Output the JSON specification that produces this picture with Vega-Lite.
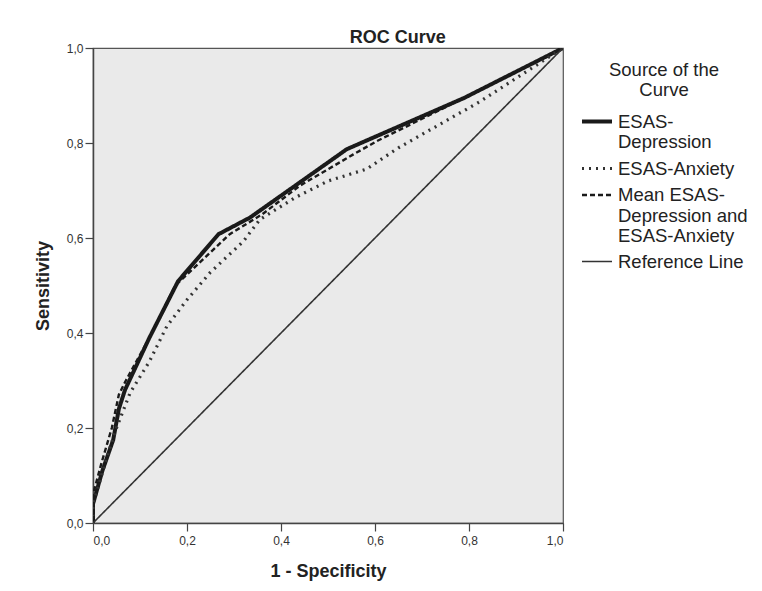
{
  "$schema": "https://vega.github.io/schema/vega-lite/v6.json",
  "width": 470,
  "height": 475,
  "autosize": "none",
  "padding": {"left": 93, "top": 48, "right": 199, "bottom": 68},
  "background": "white",
  "title": {"text": "ROC Curve", "fontSize": 18, "fontWeight": "bold", "anchor": "middle", "frame": "bounds", "offset": -5, "color": "#222"},
  "data": {
    "values": [
      {"series": "ESAS-Depression", "fpr": 0, "tpr": 0},
      {"series": "ESAS-Depression", "fpr": 0, "tpr": 0.04},
      {"series": "ESAS-Depression", "fpr": 0.02, "tpr": 0.11},
      {"series": "ESAS-Depression", "fpr": 0.043, "tpr": 0.175},
      {"series": "ESAS-Depression", "fpr": 0.055, "tpr": 0.24},
      {"series": "ESAS-Depression", "fpr": 0.068, "tpr": 0.28},
      {"series": "ESAS-Depression", "fpr": 0.12, "tpr": 0.39},
      {"series": "ESAS-Depression", "fpr": 0.181, "tpr": 0.509},
      {"series": "ESAS-Depression", "fpr": 0.267, "tpr": 0.608},
      {"series": "ESAS-Depression", "fpr": 0.334, "tpr": 0.643},
      {"series": "ESAS-Depression", "fpr": 0.44, "tpr": 0.717},
      {"series": "ESAS-Depression", "fpr": 0.54, "tpr": 0.787},
      {"series": "ESAS-Depression", "fpr": 0.79, "tpr": 0.895},
      {"series": "ESAS-Depression", "fpr": 1, "tpr": 1},
      {"series": "ESAS-Anxiety", "fpr": 0, "tpr": 0},
      {"series": "ESAS-Anxiety", "fpr": 0, "tpr": 0.04},
      {"series": "ESAS-Anxiety", "fpr": 0.03, "tpr": 0.14},
      {"series": "ESAS-Anxiety", "fpr": 0.05, "tpr": 0.2},
      {"series": "ESAS-Anxiety", "fpr": 0.079, "tpr": 0.274},
      {"series": "ESAS-Anxiety", "fpr": 0.12, "tpr": 0.34},
      {"series": "ESAS-Anxiety", "fpr": 0.157, "tpr": 0.414},
      {"series": "ESAS-Anxiety", "fpr": 0.2, "tpr": 0.47},
      {"series": "ESAS-Anxiety", "fpr": 0.249, "tpr": 0.527},
      {"series": "ESAS-Anxiety", "fpr": 0.32, "tpr": 0.593},
      {"series": "ESAS-Anxiety", "fpr": 0.355, "tpr": 0.639},
      {"series": "ESAS-Anxiety", "fpr": 0.43, "tpr": 0.685},
      {"series": "ESAS-Anxiety", "fpr": 0.5, "tpr": 0.72},
      {"series": "ESAS-Anxiety", "fpr": 0.582, "tpr": 0.745},
      {"series": "ESAS-Anxiety", "fpr": 0.65, "tpr": 0.79},
      {"series": "ESAS-Anxiety", "fpr": 0.823, "tpr": 0.887},
      {"series": "ESAS-Anxiety", "fpr": 1, "tpr": 1},
      {"series": "Mean ESAS-Depression and ESAS-Anxiety", "fpr": 0, "tpr": 0},
      {"series": "Mean ESAS-Depression and ESAS-Anxiety", "fpr": 0, "tpr": 0.06},
      {"series": "Mean ESAS-Depression and ESAS-Anxiety", "fpr": 0.018, "tpr": 0.126},
      {"series": "Mean ESAS-Depression and ESAS-Anxiety", "fpr": 0.04, "tpr": 0.2},
      {"series": "Mean ESAS-Depression and ESAS-Anxiety", "fpr": 0.055, "tpr": 0.27},
      {"series": "Mean ESAS-Depression and ESAS-Anxiety", "fpr": 0.07, "tpr": 0.3},
      {"series": "Mean ESAS-Depression and ESAS-Anxiety", "fpr": 0.12, "tpr": 0.39},
      {"series": "Mean ESAS-Depression and ESAS-Anxiety", "fpr": 0.175, "tpr": 0.5},
      {"series": "Mean ESAS-Depression and ESAS-Anxiety", "fpr": 0.291, "tpr": 0.608},
      {"series": "Mean ESAS-Depression and ESAS-Anxiety", "fpr": 0.36, "tpr": 0.65},
      {"series": "Mean ESAS-Depression and ESAS-Anxiety", "fpr": 0.44, "tpr": 0.71},
      {"series": "Mean ESAS-Depression and ESAS-Anxiety", "fpr": 0.554, "tpr": 0.776},
      {"series": "Mean ESAS-Depression and ESAS-Anxiety", "fpr": 0.604, "tpr": 0.804},
      {"series": "Mean ESAS-Depression and ESAS-Anxiety", "fpr": 0.8, "tpr": 0.9},
      {"series": "Mean ESAS-Depression and ESAS-Anxiety", "fpr": 1, "tpr": 1},
      {"series": "Reference Line", "fpr": 0, "tpr": 0},
      {"series": "Reference Line", "fpr": 1, "tpr": 1}
    ]
  },
  "mark": {"type": "line", "clip": true},
  "encoding": {
    "x": {"field": "fpr", "type": "quantitative", "title": "1 - Specificity",
      "scale": {"domain": [0, 1], "nice": false},
      "axis": {"values": [0, 0.2, 0.4, 0.6, 0.8, 1], "labelExpr": "replace(format(datum.value, '.1f'), '.', ',')", "labelPadding": 4, "titlePadding": 16}},
    "y": {"field": "tpr", "type": "quantitative", "title": "Sensitivity",
      "scale": {"domain": [0, 1], "nice": false},
      "axis": {"values": [0, 0.2, 0.4, 0.6, 0.8, 1], "labelExpr": "replace(format(datum.value, '.1f'), '.', ',')", "titlePadding": 14}},
    "color": {"field": "series", "type": "nominal",
      "scale": {"domain": ["ESAS-Depression", "ESAS-Anxiety", "Mean ESAS-Depression and ESAS-Anxiety", "Reference Line"], "range": ["#1a1a1a", "#333333", "#1a1a1a", "#333333"]},
      "legend": {
        "title": ["Source of the", "Curve"],
        "labelExpr": "datum.label == 'ESAS-Depression' ? ['ESAS-', 'Depression'] : datum.label == 'Mean ESAS-Depression and ESAS-Anxiety' ? ['Mean ESAS-', 'Depression and', 'ESAS-Anxiety'] : datum.label"
      }},
    "strokeDash": {"field": "series", "type": "nominal",
      "scale": {"domain": ["ESAS-Depression", "ESAS-Anxiety", "Mean ESAS-Depression and ESAS-Anxiety", "Reference Line"], "range": [[1, 0], [2, 5], [5, 3], [1, 0]]},
      "legend": {
        "title": ["Source of the", "Curve"],
        "labelExpr": "datum.label == 'ESAS-Depression' ? ['ESAS-', 'Depression'] : datum.label == 'Mean ESAS-Depression and ESAS-Anxiety' ? ['Mean ESAS-', 'Depression and', 'ESAS-Anxiety'] : datum.label"
      }},
    "strokeWidth": {"field": "series", "type": "nominal",
      "scale": {"domain": ["ESAS-Depression", "ESAS-Anxiety", "Mean ESAS-Depression and ESAS-Anxiety", "Reference Line"], "range": [4, 1.6, 3, 1.2]},
      "legend": {
        "title": ["Source of the", "Curve"],
        "labelExpr": "datum.label == 'ESAS-Depression' ? ['ESAS-', 'Depression'] : datum.label == 'Mean ESAS-Depression and ESAS-Anxiety' ? ['Mean ESAS-', 'Depression and', 'ESAS-Anxiety'] : datum.label"
      }}
  },
  "config": {
    "font": "Liberation Sans",
    "view": {"fill": "#eaeaea", "stroke": "#555555", "strokeWidth": 1.2},
    "axis": {
      "grid": false,
      "domainColor": "#444444",
      "domainWidth": 1.5,
      "tickColor": "#444444",
      "tickWidth": 1.2,
      "tickSize": 8,
      "labelFontSize": 12,
      "labelColor": "#333333",
      "labelPadding": 2,
      "titleFontSize": 18,
      "titleFontWeight": "bold",
      "titleColor": "#222222"
    },
    "legend": {
      "orient": "right",
      "offset": 4,
      "padding": 13,
      "titleFontSize": 18.5,
      "titleFontWeight": "normal",
      "titleColor": "#222222",
      "titleAnchor": "middle",
      "titleAlign": "center",
      "titleLineHeight": 20,
      "titlePadding": 5,
      "labelFontSize": 18.5,
      "labelLineHeight": 20,
      "labelColor": "#222222",
      "labelOffset": 4,
      "labelLimit": 300,
      "rowPadding": -3,
      "symbolType": "stroke",
      "symbolSize": 900
    }
  }
}
